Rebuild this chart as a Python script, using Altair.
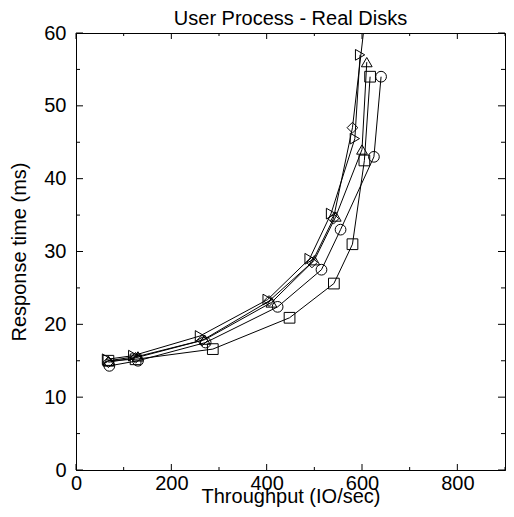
import altair as alt
import pandas as pd

# Series data
sq_x = [68, 125, 287, 448, 541, 580, 605, 617]
sq_y = [15.0, 15.2, 16.6, 20.9, 25.6, 31.0, 42.5, 54.0]
ci_x = [70, 130, 272, 423, 515, 555, 625, 640]
ci_y = [14.3, 15.0, 17.5, 22.4, 27.5, 33.0, 43.0, 54.0]
di_x = [68, 125, 265, 405, 495, 540, 580, 610]
di_y = [14.8, 15.4, 17.8, 23.2, 28.5, 34.5, 47.0, 64.0]
tu_x = [68, 130, 270, 410, 500, 545, 600, 610]
tu_y = [15.0, 15.6, 17.9, 23.0, 28.8, 34.8, 44.0, 56.0]
tr_x = [65, 120, 260, 402, 490, 535, 585, 596]
tr_y = [15.2, 15.7, 18.4, 23.4, 29.0, 35.2, 45.5, 57.0]

series_names = ["square", "circle", "diamond", "triangle-up", "triangle-right"]
series_x = [sq_x, ci_x, di_x, tu_x, tr_x]
series_y = [sq_y, ci_y, di_y, tu_y, tr_y]

x_major = [0, 200, 400, 600, 800]
x_minor = [100, 300, 500, 700, 900]
y_major = [0, 10, 20, 30, 40, 50, 60]
y_minor = [5, 15, 25, 35, 45, 55]

rows = []
for name, xs, ys in zip(series_names, series_x, series_y):
    for i, (xv, yv) in enumerate(zip(xs, ys)):
        rows.append({"series": name, "x": xv, "y": yv, "i": i})
df = pd.DataFrame(rows)

W, H = 429, 437
FONT = "Liberation Sans"

xscale = alt.Scale(domain=[0, 900], nice=False, zero=False)
yscale = alt.Scale(domain=[0, 60], nice=False, zero=False)
xaxis = alt.Axis(values=x_major, title="Throughput (IO/sec)", ticks=False, grid=False,
                 labelFontSize=20, titleFontSize=20, labelFont=FONT, titleFont=FONT,
                 labelColor="black", titleColor="black", titleFontWeight="normal",
                 labelPadding=3, titlePadding=-7, domainColor="black", labelFlush=False)
yaxis = alt.Axis(values=y_major, title="Response time (ms)", ticks=False, grid=False,
                 labelFontSize=20, titleFontSize=20, labelFont=FONT, titleFont=FONT,
                 labelColor="black", titleColor="black", titleFontWeight="normal",
                 labelPadding=10, titlePadding=14, domainColor="black", labelFlush=False)

X = alt.X("x:Q", scale=xscale, axis=xaxis)
Y = alt.Y("y:Q", scale=yscale, axis=yaxis)

lines = alt.Chart(df).mark_line(color="black", strokeWidth=1, clip=True).encode(
    x=X, y=Y, detail="series:N", order="i:Q")
points = alt.Chart(df).mark_point(filled=False, color="black", strokeWidth=1, size=115,
                                  opacity=1, clip=True).encode(
    x=X, y=Y,
    shape=alt.Shape("series:N", scale=alt.Scale(domain=series_names, range=series_names),
                    legend=None))

def xticks(vals, length):
    d = pd.DataFrame({"x": vals})
    bottom = alt.Chart(d).mark_rule(color="black", strokeWidth=1).encode(
        x=X, y=alt.value(H), y2=alt.value(H - length))
    top = alt.Chart(d).mark_rule(color="black", strokeWidth=1).encode(
        x=X, y=alt.value(0), y2=alt.value(length))
    return [bottom, top]

def yticks(vals, length):
    d = pd.DataFrame({"y": vals})
    left = alt.Chart(d).mark_rule(color="black", strokeWidth=1).encode(
        y=Y, x=alt.value(0), x2=alt.value(length))
    right = alt.Chart(d).mark_rule(color="black", strokeWidth=1).encode(
        y=Y, x=alt.value(W), x2=alt.value(W - length))
    return [left, right]

layers = [lines, points] + xticks(x_major, 6) + xticks(x_minor, 3) + yticks(y_major, 7) + yticks(y_minor, 4)

chart = alt.layer(*layers).properties(
    width=W, height=H,
    title=alt.TitleParams("User Process - Real Disks", fontSize=20, font=FONT,
                          fontWeight="normal", color="black", offset=-6),
    autosize=alt.AutoSizeParams(type="none"),
    padding={"left": 68, "top": 25, "right": 1, "bottom": 39},
    background="white",
).configure_view(stroke="black", strokeWidth=1)

chart.save("out.html", embed_options={"renderer": "svg", "actions": False})
